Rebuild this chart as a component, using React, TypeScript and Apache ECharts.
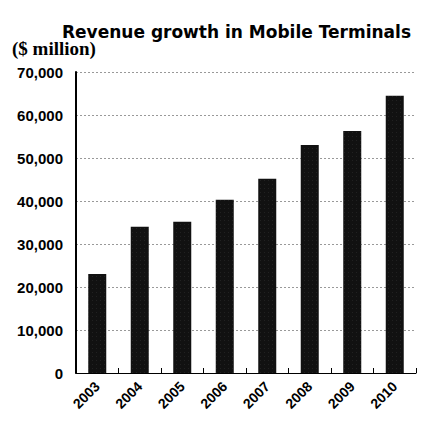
import React, { useEffect, useRef } from "react";
import * as echarts from "echarts";

const titleText = "Revenue growth in Mobile Terminals";
const unitText = "($ million)";
const years = ["2003", "2004", "2005", "2006", "2007", "2008", "2009", "2010"];
const revenue = [23000, 34000, 35200, 40300, 45200, 53000, 56300, 64500];
const yMin = 0;
const yMax = 70000;
const yStep = 10000;

export default function App() {
  const ref = useRef<HTMLDivElement>(null);
  useEffect(() => {
    if (!ref.current) return;
    const chart = echarts.init(ref.current, null, { renderer: "svg" });
    chart.setOption({
      animation: false,
      backgroundColor: "#ffffff",
      title: [
        {
          text: titleText,
          left: 62,
          top: 23,
          padding: 0,
          textStyle: {
            fontFamily: "DejaVu Sans",
            fontWeight: "bold",
            fontSize: 17,
            color: "#000",
          },
        },
        {
          text: unitText,
          left: 12,
          top: 39,
          padding: 0,
          textStyle: {
            fontFamily: "Liberation Serif",
            fontWeight: "bold",
            fontSize: 19,
            color: "#000",
          },
        },
      ],
      grid: { left: 76, right: 6, top: 72, bottom: 55 },
      xAxis: {
        type: "category",
        data: years,
        axisLine: { show: true, lineStyle: { color: "#000", width: 1 } },
        axisTick: { show: true, inside: true, length: 5, lineStyle: { color: "#000" } },
        axisLabel: {
          rotate: 45,
          margin: 11,
          fontFamily: "Liberation Sans",
          fontWeight: "bold",
          fontSize: 14,
          color: "#000",
        },
      },
      yAxis: {
        type: "value",
        min: yMin,
        max: yMax,
        interval: yStep,
        axisLine: { show: true, lineStyle: { color: "#000", width: 2 } },
        axisTick: { show: false },
        axisLabel: {
          margin: 13,
          fontFamily: "Liberation Sans",
          fontWeight: "bold",
          fontSize: 15,
          color: "#000",
          formatter: (v: number) => v.toLocaleString("en-US"),
        },
        splitLine: {
          show: true,
          lineStyle: { color: "#999", width: 1, type: [2, 2] },
        },
      },
      series: [
        {
          type: "bar",
          data: revenue,
          barWidth: 18,
          itemStyle: {
            color: "#111",
            decal: {
              symbol: "rect",
              symbolSize: 0.5,
              color: "rgba(200,200,200,0.35)",
              dashArrayX: [1, 3],
              dashArrayY: [1, 3],
            },
          },
        },
      ],
      aria: { enabled: false, decal: { show: true } },
    });
    return () => chart.dispose();
  }, []);
  return (
    <div
      ref={ref}
      style={{ position: "fixed", left: 0, top: 0, width: 422, height: 428 }}
    />
  );
}
